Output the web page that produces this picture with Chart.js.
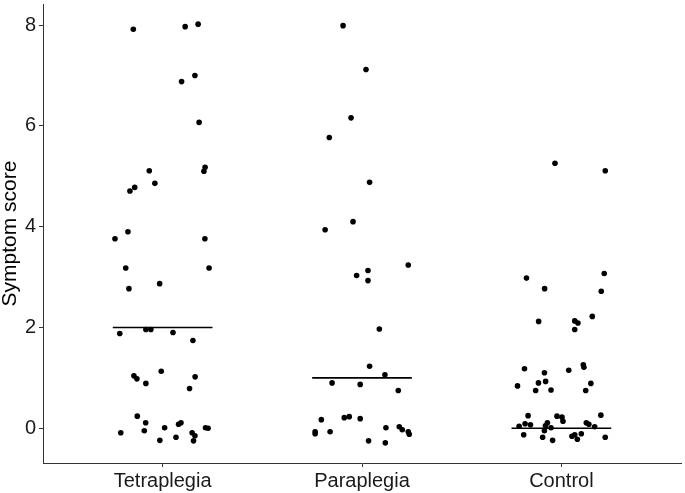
<!DOCTYPE html>
<html>
<head>
<meta charset="utf-8">
<script src="https://cdn.jsdelivr.net/npm/chart.js@4.4.1/dist/chart.umd.min.js"></script>
<style>
  html, body { margin: 0; padding: 0; background: #fff; }
  #wrap { width: 685px; height: 493px; }
</style>
</head>
<body>
<div id="wrap"><canvas id="strip"></canvas></div>
<script>
const groups = ["Tetraplegia", "Paraplegia", "Control"];
const medians = [2, 1, 0];
const yTicks = [0, 2, 4, 6, 8];

// horizontal jitter (in category units) and score
const tetraJitter = [-0.147, 0.113, 0.178, 0.095, 0.162, 0.183, -0.067, 0.213, 0.207, -0.039,
  -0.140, -0.164, -0.174, -0.239, 0.212, -0.185, 0.233, -0.015, -0.169, -0.215,
  -0.084, -0.059, 0.052, 0.152, -0.144, -0.129, -0.007, -0.084, 0.163, 0.135,
  -0.127, -0.085, -0.092, -0.210, 0.010, 0.080, 0.092, -0.014, 0.067, 0.148,
  0.162, 0.155, 0.215, 0.228];
const tetraScore = [7.92, 7.97, 8.02, 6.88, 7.00, 6.07, 5.11, 5.18, 5.10, 4.86,
  4.78, 4.71, 3.90, 3.76, 3.76, 3.18, 3.18, 2.87, 2.77, 1.88,
  1.96, 1.96, 1.90, 1.74, 1.04, 0.98, 1.13, 0.89, 1.02, 0.79,
  0.24, 0.11, -0.05, -0.09, 0.01, 0.08, 0.11, -0.24, -0.18, -0.09,
  -0.15, -0.25, 0.01, 0.00];

const paraJitter = [-0.095, 0.020, -0.055, -0.164, 0.038, -0.045, -0.185, 0.232, -0.027, 0.030,
  0.030, 0.087, 0.038, 0.115, -0.150, -0.009, 0.182, -0.204, -0.089, -0.064,
  -0.009, -0.235, -0.235, -0.160, 0.033, 0.120, 0.117, 0.187, 0.202, 0.232, 0.237];
const paraScore = [7.99, 7.12, 6.16, 5.77, 4.88, 4.10, 3.94, 3.24, 3.03, 3.13,
  2.93, 1.97, 1.23, 1.06, 0.90, 0.87, 0.75, 0.17, 0.21, 0.23,
  0.19, -0.07, -0.11, -0.07, -0.25, 0.01, -0.29, 0.03, -0.03, -0.07, -0.12];

const controlJitter = [-0.032, 0.220, -0.175, 0.215, -0.084, 0.200, -0.114, 0.067, 0.083, 0.067,
  0.155, -0.185, -0.085, 0.037, 0.110, 0.113, -0.220, -0.115, -0.079, -0.129,
  -0.052, 0.148, 0.122, -0.167, -0.212, -0.182, -0.155, -0.189, -0.080, -0.070,
  -0.085, -0.052, -0.094, -0.044, -0.022, 0.003, 0.008, 0.053, 0.067, 0.080,
  0.100, 0.125, 0.138, 0.167, 0.198, 0.220];
const controlScore = [5.26, 5.11, 2.98, 3.07, 2.77, 2.72, 2.12, 2.13, 2.09, 1.96,
  2.22, 1.18, 1.10, 1.15, 1.26, 1.21, 0.84, 0.90, 0.93, 0.75,
  0.76, 0.89, 0.75, 0.25, 0.04, 0.09, 0.07, -0.13, 0.05, 0.11,
  -0.05, 0.01, -0.18, -0.24, 0.24, 0.22, 0.14, -0.16, -0.13, -0.22,
  -0.11, 0.11, 0.08, 0.03, 0.26, -0.18];

const jitters = [tetraJitter, paraJitter, controlJitter];
const scores = [tetraScore, paraScore, controlScore];

const FONT = "'Liberation Sans', Arial, sans-serif";
const axisColor = "#333333";

const pointSets = groups.map((g, i) => ({
  type: "scatter",
  label: g,
  data: scores[i].map((s, k) => ({ x: i + 1 + jitters[i][k], y: s })),
  backgroundColor: "#000",
  borderWidth: 0,
  pointRadius: 2.8,
}));

const medianSets = groups.map((g, i) => ({
  type: "line",
  label: g + " median",
  data: [
    { x: i + 1 - 0.25, y: medians[i] },
    { x: i + 1 + 0.25, y: medians[i] },
  ],
  borderColor: "#000",
  borderWidth: 1.6,
  pointRadius: 0,
  fill: false,
}));

new Chart(document.getElementById("strip"), {
  type: "scatter",
  data: { datasets: [...medianSets, ...pointSets] },
  options: {
    responsive: true,
    maintainAspectRatio: false,
    animation: false,
    layout: { padding: { top: 3, right: 2, left: 0, bottom: 0 } },
    plugins: { legend: { display: false }, tooltip: { enabled: false } },
    scales: {
      x: {
        type: "linear",
        min: 0.4,
        max: 3.6,
        afterBuildTicks: (axis) => {
          axis.ticks = groups.map((_, i) => ({ value: i + 1 }));
        },
        afterFit: (axis) => {
          axis.height = 30;
          axis.paddingLeft = 0;
          axis.paddingRight = 0;
        },
        grid: { drawOnChartArea: false, tickLength: 4, color: axisColor },
        border: { display: true, color: axisColor, width: 1 },
        ticks: {
          padding: 2,
          color: "#1a1a1a",
          font: { family: FONT, size: 20 },
          callback: (v) => groups[v - 1] || "",
          maxRotation: 0,
        },
      },
      y: {
        min: -0.69,
        max: 8.42,
        afterBuildTicks: (axis) => {
          axis.ticks = yTicks.map((v) => ({ value: v }));
        },
        afterFit: (axis) => {
          axis.width = 43;
          axis.paddingTop = 0;
          axis.paddingBottom = 0;
        },
        grid: { drawOnChartArea: false, tickLength: 4, color: axisColor },
        border: { display: true, color: axisColor, width: 1 },
        ticks: {
          padding: 3,
          color: "#1a1a1a",
          font: { family: FONT, size: 20 },
        },
        title: {
          display: true,
          text: "Symptom score",
          color: "#000",
          padding: { top: 0, bottom: 0 },
          font: { family: FONT, size: 21, lineHeight: 1 },
        },
      },
    },
  },
});
</script>
</body>
</html>
